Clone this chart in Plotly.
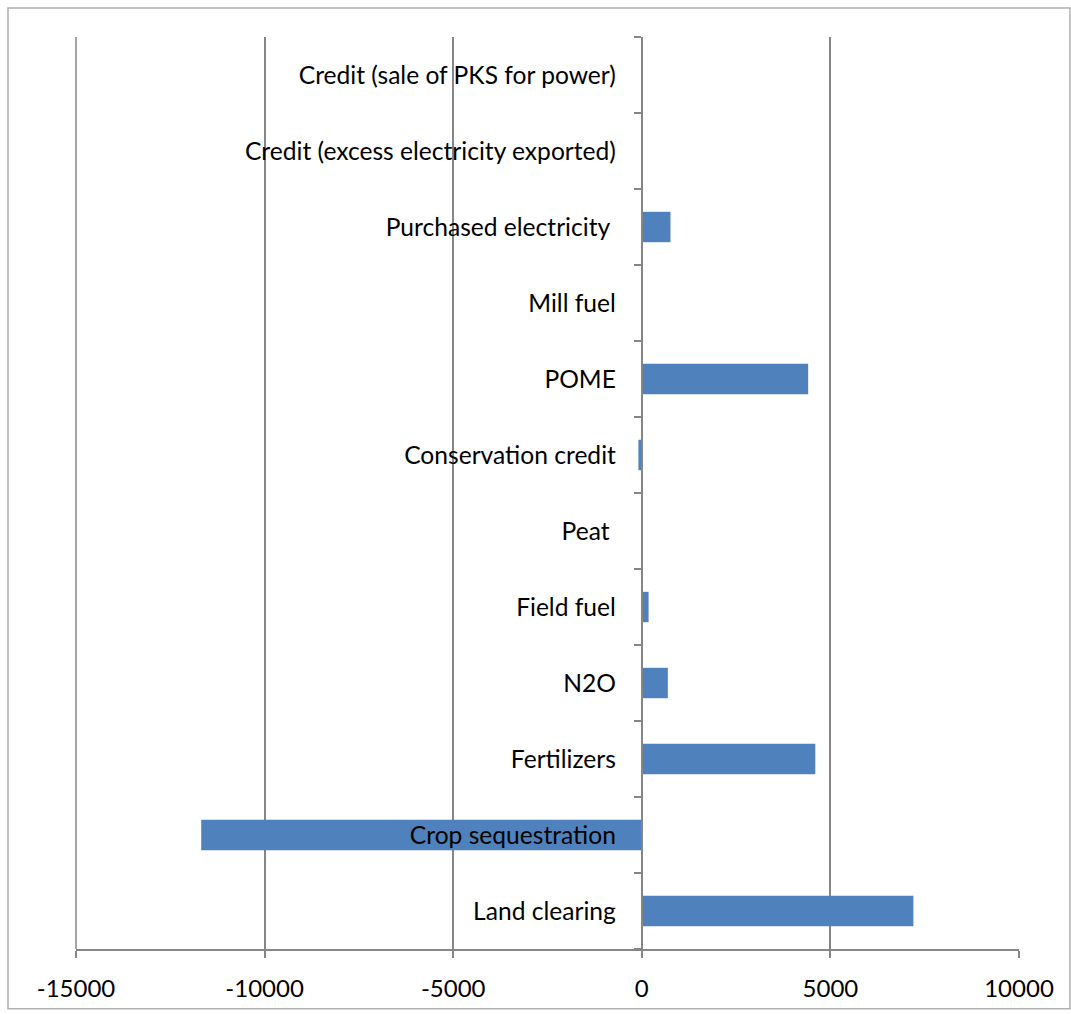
import plotly.graph_objects as go

# Emission sources, listed bottom to top
categories = [
    "Land clearing",
    "Crop sequestration",
    "Fertilizers",
    "N2O",
    "Field fuel",
    "Peat\u00a0",
    "Conservation credit",
    "POME",
    "Mill fuel",
    "Purchased electricity\u00a0",
    "Credit (excess electricity exported)",
    "Credit (sale of PKS for power)",
]
values = [7200, -11680, 4600, 690, 180, 0, -90, 4410, 0, 760, 0, 0]

x_ticks = [-15000, -10000, -5000, 0, 5000, 10000]

AXIS_GREY = "#868686"
FONT = "Lato"

fig = go.Figure(
    go.Bar(
        x=values,
        y=categories,
        orientation="h",
        marker=dict(color="#4f81bd", line=dict(width=0)),
        hoverinfo="x+y",
    )
)

fig.update_layout(
    width=1071,
    height=1014,
    margin=dict(l=76, r=52, t=37, b=62),
    paper_bgcolor="white",
    plot_bgcolor="white",
    showlegend=False,
    bargap=0.6,
    font=dict(family=FONT, size=24, color="#000000"),
    xaxis=dict(
        range=[x_ticks[0], x_ticks[-1]],
        tickvals=x_ticks,
        ticktext=[str(v) for v in x_ticks],
        showgrid=True,
        gridcolor=AXIS_GREY,
        gridwidth=1.5,
        zeroline=False,
        showline=True,
        linecolor=AXIS_GREY,
        linewidth=2,
        ticks="outside",
        ticklen=7,
        tickwidth=1.5,
        tickcolor=AXIS_GREY,
        ticklabelstandoff=10,
        tickfont=dict(family=FONT, size=24, color="#000000"),
    ),
    yaxis=dict(
        type="category",
        categoryorder="array",
        categoryarray=categories,
        anchor="free",
        position=0.6,
        showgrid=False,
        zeroline=False,
        showline=True,
        linecolor=AXIS_GREY,
        linewidth=2,
        ticks="outside",
        tickson="boundaries",
        ticklen=7,
        tickwidth=1.5,
        tickcolor=AXIS_GREY,
        ticklabelstandoff=20,
        tickfont=dict(family=FONT, size=24.6, color="#000000"),
        layer="above traces",
    ),
    shapes=[
        # outer chart border
        dict(
            type="rect",
            xref="paper",
            yref="paper",
            x0=(8 - 76) / 943,
            x1=(1070 - 76) / 943,
            y0=-(1012 - 952) / 915,
            y1=1 + (37 - 8) / 915,
            line=dict(color="#b0b0b0", width=1.5),
            fillcolor="rgba(0,0,0,0)",
            layer="below",
        ),
        # gridline on the left edge of the value range
        dict(
            type="line",
            xref="paper",
            yref="paper",
            x0=0,
            x1=0,
            y0=0,
            y1=1,
            line=dict(color=AXIS_GREY, width=1.5),
            layer="below",
        ),
    ],
)

fig.write_html("out.html")
